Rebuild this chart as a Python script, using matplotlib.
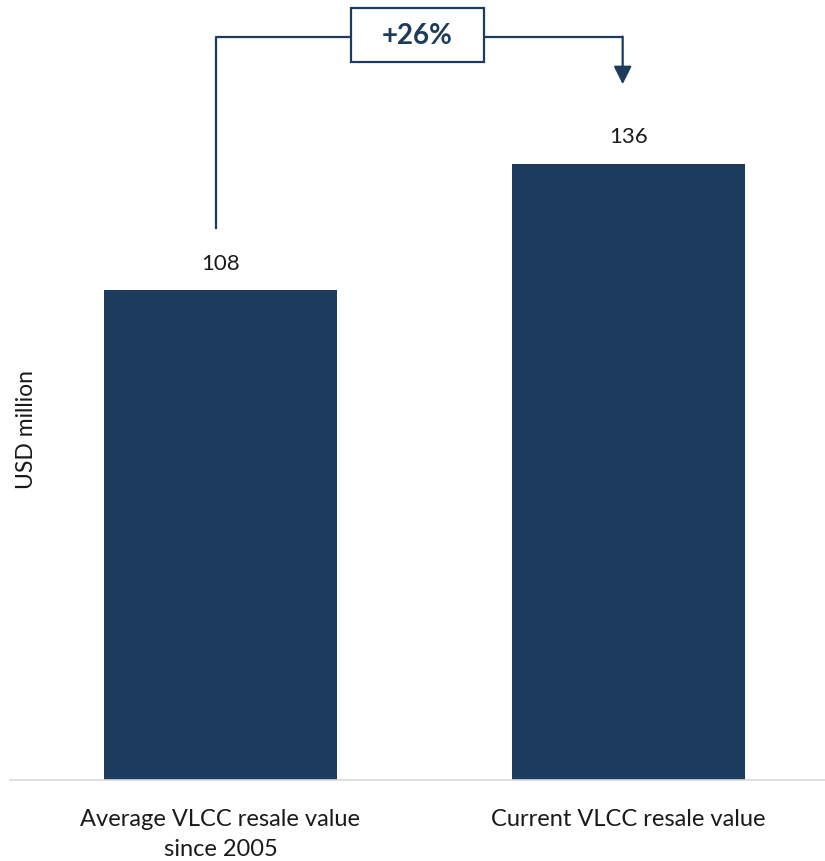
import matplotlib
matplotlib.use("Agg")
import matplotlib.pyplot as plt
from matplotlib.patches import Rectangle

plt.rcParams["font.family"] = ["Lato", "DejaVu Sans"]

categories = ["Average VLCC resale value\nsince 2005", "Current VLCC resale value"]
values = [108, 136]
change_label = "+26%"

navy = "#1D3B5C"
text_color = "#1A1A1A"

fig = plt.figure(figsize=(8.25, 8.62), dpi=100)
ax = fig.add_axes([10 / 825, 81 / 862, 815 / 825, 781 / 862])

x = list(range(len(values)))
ax.bar(x, values, width=0.571, color=navy, zorder=2)

ax.set_xlim(-0.516, 1.482)
ax.set_ylim(0, 172.3)

for xi, v in zip(x, values):
    ax.annotate(f"{v}", (xi, v), xytext=(0, 19.5), textcoords="offset points",
                ha="center", va="center", fontsize=16, color=text_color)

# bracket connector showing the change between the two bars
top = max(values) + 28
left_x, right_x = x[0] - 0.011, x[1] - 0.014
ax.plot([left_x, left_x, right_x], [values[0] + 13.5, top, top],
        color=navy, lw=1.6, solid_capstyle="butt", zorder=3)
ax.annotate("", xy=(right_x, max(values) + 17.5), xytext=(right_x, top),
            arrowprops=dict(arrowstyle="-|>,head_length=1.08,head_width=0.54",
                            color=navy, lw=1.6, shrinkA=0, shrinkB=0,
                            mutation_scale=10),
            zorder=3)

box_cx = 0.483
box_w, box_h = 0.324, 11.9
ax.add_patch(Rectangle((box_cx - box_w / 2, top + 0.4 - box_h / 2), box_w, box_h,
                       facecolor="white", edgecolor=navy, lw=1.6, zorder=4))
ax.text(box_cx, top + 0.4, change_label, ha="center", va="center",
        fontsize=20, fontweight="bold", color=navy, zorder=5)

ax.set_xticks(x)
ax.set_xticklabels(categories, fontsize=17, color=text_color, linespacing=1.55)
ax.tick_params(axis="x", length=0, pad=20)
ax.set_yticks([])
ax.set_ylabel("USD million", fontsize=16.5, color=text_color)
ax.yaxis.set_label_coords(0.033, 0.45)

for side in ["top", "right", "left"]:
    ax.spines[side].set_visible(False)
ax.spines["bottom"].set_color("#D9D9D9")
ax.spines["bottom"].set_linewidth(1.2)

fig.savefig("out.png", dpi=100)
